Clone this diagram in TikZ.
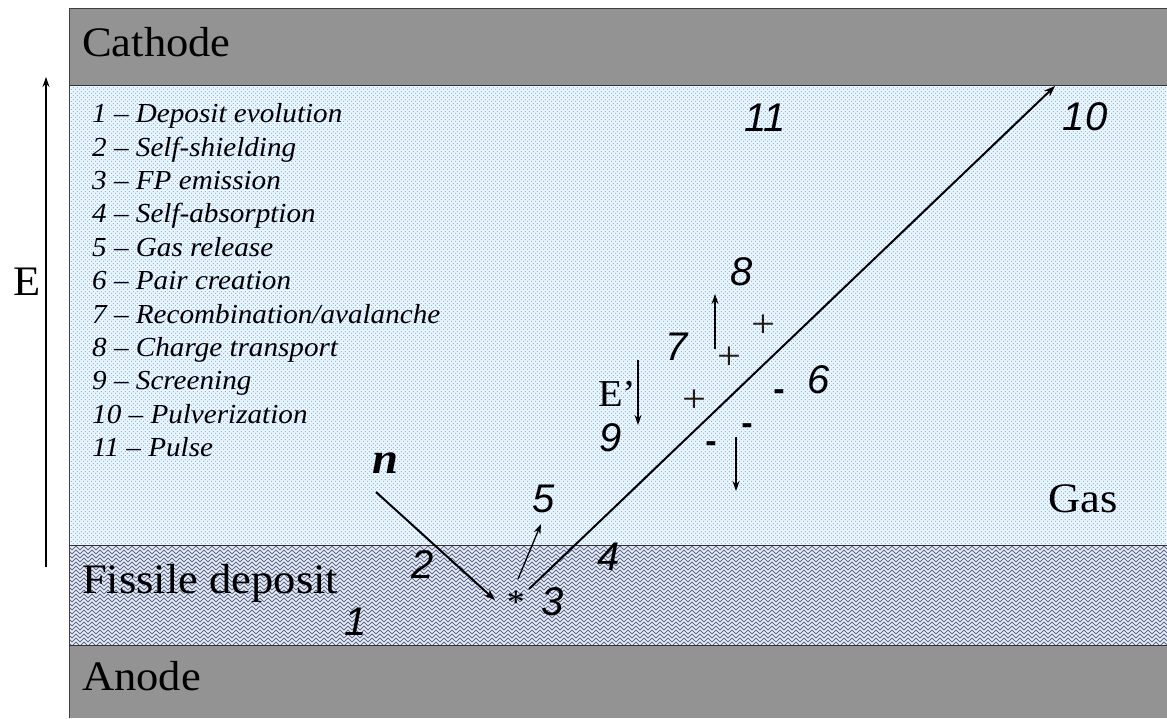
\documentclass[tikz,border=0pt]{standalone}
\usepackage{fontspec}
\setmainfont{Liberation Serif}[FakeStretch=1.06]
\newfontfamily\arialf{Liberation Sans}
\usetikzlibrary{arrows.meta,patterns}
\definecolor{electrode}{RGB}{147,147,147}
\definecolor{gasbase}{RGB}{240,246,253}
\definecolor{gasdot}{RGB}{120,185,250}
\definecolor{depdark}{RGB}{90,105,145}
\definecolor{deplight}{RGB}{235,238,245}
\pgfdeclarepatternformonly{gasdots}{\pgfqpoint{0pt}{0pt}}{\pgfqpoint{4.2pt}{4.2pt}}{\pgfqpoint{4.2pt}{4.2pt}}{%
  \pgfpathrectangle{\pgfqpoint{0pt}{0pt}}{\pgfqpoint{1.3pt}{1.3pt}}%
  \pgfpathrectangle{\pgfqpoint{2.1pt}{2.1pt}}{\pgfqpoint{1.3pt}{1.3pt}}%
  \pgfusepath{fill}}
\pgfdeclarepatternformonly{chevron}{\pgfqpoint{-1pt}{-1pt}}{\pgfqpoint{9pt}{5pt}}{\pgfqpoint{8pt}{4pt}}{%
  \pgfsetlinewidth{1pt}%
  \pgfpathmoveto{\pgfqpoint{0pt}{0pt}}%
  \pgfpathlineto{\pgfqpoint{4pt}{4pt}}%
  \pgfpathlineto{\pgfqpoint{8pt}{0pt}}%
  \pgfusepath{stroke}}
\begin{document}
\begin{tikzpicture}[x=1pt,y=-1pt,
  big/.style={font=\fontsize{42}{50}\selectfont, inner sep=0},
  num/.style={font=\arialf\itshape\fontsize{40}{48}\selectfont, inner sep=0},
  leg/.style={font=\itshape\fontsize{27.5}{32}\selectfont, inner sep=0, anchor=base west},
  arr/.style={-{Stealth[length=11pt,width=8pt]}, line width=2pt},
  thinarr/.style={-{Stealth[length=10pt,width=7pt]}, line width=1.3pt},
  plus/.style={font=\fontsize{40}{46}\selectfont, inner sep=0, text=black!80!brown},
  minus/.style={font=\arialf\bfseries\fontsize{34}{40}\selectfont, inner sep=0}]
\useasboundingbox (0,0) rectangle (1167,718);
% layers
\fill[electrode] (69,8) rectangle (1167,85);
\fill[gasbase] (69,85) rectangle (1167,545);
\fill[pattern=gasdots, pattern color=gasdot] (69,85) rectangle (1167,545);
\fill[deplight] (69,545) rectangle (1167,645);
\fill[pattern=chevron, pattern color=depdark] (69,545) rectangle (1167,645);
\fill[electrode] (69,645) rectangle (1167,718);
\draw[line width=1pt, black!75] (1167,8) -- (69,8) -- (69,718);
\draw[line width=0.8pt, black!80] (69,85) -- (1167,85);
\draw[line width=0.8pt, black!80] (69,545) -- (1167,545);
\draw[line width=0.8pt, black!80] (69,645) -- (1167,645);
% layer labels
\node[big, anchor=base west] (cathode) at (82,56) {Cathode};
\node[big, anchor=base west] (deposit) at (82,593) {Fissile deposit};
\node[big, anchor=base west] (anode) at (82,690) {Anode};
\node[big, anchor=base] (gas) at (1083,512) {Gas};
\node[big, anchor=base] (E) at (27,295) {E};
\node[big, anchor=base west, font=\fontsize{38}{46}\selectfont] (Ep) at (598,406) {E’};
% legend
\foreach \t [count=\i] in {Deposit evolution, Self-shielding, FP emission, Self-absorption, Gas release, Pair creation, Recombination/avalanche, Charge transport, Screening, Pulverization, Pulse}
  \node[leg] (leg\i) at (92, {122.7+33.4*(\i-1)}) {\i{} -- \t};
% numbers
\node[num] (n11) at (765,118) {11};
\node[num] (n10) at (1085,117) {10};
\node[num] (n8) at (742,272) {8};
\node[num] (n7) at (677,347) {7};
\node[num] (n6) at (819,380) {6};
\node[num] (n9) at (611,438) {9};
\node[num] (n5) at (544,499) {5};
\node[num] (n4) at (609,557) {4};
\node[num] (n2) at (423,565) {2};
\node[num] (n3) at (553,602) {3};
\node[num] (n1) at (356,622) {1};
\node[inner sep=0, font=\bfseries\itshape\fontsize{44}{50}\selectfont] (neutron) at (385,463) {n};
\node[inner sep=0, anchor=north, font=\fontsize{34}{40}\selectfont] (star) at (516,591) {*};
% charges
\node[plus] (p1) at (763,326) {+};
\node[plus] (p2) at (729,358) {+};
\node[plus] (p3) at (694,401) {+};
\node[minus] (m1) at (779,395) {-};
\node[minus] (m2) at (747,429) {-};
\node[minus] (m3) at (711,447) {-};
% arrows
\coordinate (fpstart) at (529,589);
\coordinate (fpend) at (1055,86);
\coordinate (nstart) at (376,492);
\coordinate (nend) at (495,600);
\coordinate (gstart) at (518,579);
\coordinate (gend) at (541,524);
\coordinate (Estart) at (46,567);
\coordinate (Eend) at (46,77);
\coordinate (Epstart) at (638,360);
\coordinate (Epend) at (638,425);
\coordinate (tstart) at (715,349);
\coordinate (tend) at (715,294);
\coordinate (dstart) at (736,437);
\coordinate (dend) at (736,491);
\draw[arr] (fpstart) -- (fpend);
\draw[arr] (nstart) -- (nend);
\draw[thinarr] (gstart) -- (gend);
\draw[thinarr] (Estart) -- (Eend);
\draw[thinarr] (Epstart) -- (Epend);
\draw[thinarr] (tstart) -- (tend);
\draw[thinarr] (dstart) -- (dend);
\end{tikzpicture}
\end{document}
